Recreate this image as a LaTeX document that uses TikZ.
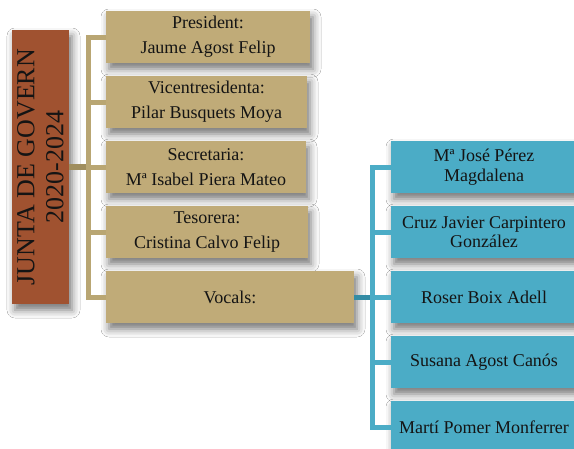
\documentclass[tikz,border=0pt]{standalone}
\usepackage{fontspec}
\setmainfont{Liberation Serif}
\usetikzlibrary{shadows.blur}
\definecolor{tanbox}{RGB}{192,171,120}
\definecolor{tanline}{RGB}{185,166,115}
\definecolor{tandark}{RGB}{160,142,94}
\definecolor{bluebox}{RGB}{75,172,198}
\definecolor{bluedark}{RGB}{52,140,165}
\definecolor{brownbox}{RGB}{160,82,48}
\definecolor{txt}{RGB}{20,20,20}
\tikzset{
  shd/.style={blur shadow={shadow xshift=3pt, shadow yshift=-6pt, shadow blur radius=8pt, shadow opacity=55}},
  tanbx/.style={shd, fill=tanbox, draw=none, inner sep=0pt, minimum height=52pt, align=center, text=txt,
    font=\fontsize{18}{25}\selectfont},
  bluebx/.style={shd, fill=bluebox, draw=none, inner sep=0pt, minimum width=186pt, minimum height=52pt, align=center, text=txt,
    font=\fontsize{18}{19.5}\selectfont},
  headbx/.style={shd, fill=brownbox, draw=none, inner sep=0pt, rotate=90, minimum width=274pt, minimum height=57pt,
    align=center, text=txt, font=\fontsize{26}{29}\selectfont},
  tanconn/.style={draw=tanline, line width=5pt},
  tanconnd/.style={draw=tandark, line width=5.5pt},
  blueconn/.style={draw=bluebox, line width=5pt},
  blueconnd/.style={draw=bluedark, line width=5pt},
}
\begin{document}
\begin{tikzpicture}[x=1pt,y=-1pt]
\useasboundingbox (0,0) rectangle (574,448);
\begin{scope}
\clip (0,0) rectangle (574,448);
\fill[white] (0,0) rectangle (574,448);
% spines
\coordinate (tsp) at (88.5,167);
\coordinate (bsp) at (372,297);
% nodes
\node[headbx] (L) at (40.5,167) {JUNTA DE GOVERN\\2020-2024};
\node[tanbx, minimum width=204pt] (P) at (208,37) {President:\\Jaume Agost Felip};
\node[tanbx, minimum width=201pt] (V) at (206.5,102) {Vicentresidenta:\\Pilar Busquets Moya};
\node[tanbx, minimum width=200pt] (S) at (206,167) {Secretaria:\\Mª Isabel Piera Mateo};
\node[tanbx, minimum width=202pt] (T) at (207,232) {Tesorera:\\Cristina Calvo Felip};
\node[tanbx, minimum width=248pt] (Vo) at (230,297) {Vocals:};
\node[bluebx] (B1) at (484,167) {Mª José Pérez\\Magdalena};
\node[bluebx] (B2) at (484,232) {Cruz Javier Carpintero\\González};
\node[bluebx] (B3) at (484,297) {Roser Boix Adell};
\node[bluebx] (B4) at (484,362) {Susana Agost Canós};
\node[bluebx] (B5) at (484,427) {Martí Pomer Monferrer};
% connectors
\draw[tanconnd] (L.south) -- (tsp);
\draw[tanconn] (P.west) -| (tsp);
\draw[tanconn] (V.west) -| (tsp);
\draw[tanconn] (S.west) -- (tsp);
\draw[tanconn] (T.west) -| (tsp);
\draw[tanconn] (Vo.west) -| (tsp);
\draw[blueconnd] (Vo.east) -- (bsp);
\draw[blueconn] (B1.west) -| (bsp);
\draw[blueconn] (B2.west) -| (bsp);
\draw[blueconn] (B3.west) -- (bsp);
\draw[blueconn] (B4.west) -| (bsp);
\draw[blueconn] (B5.west) -| (bsp);
\end{scope}
\end{tikzpicture}
\end{document}
